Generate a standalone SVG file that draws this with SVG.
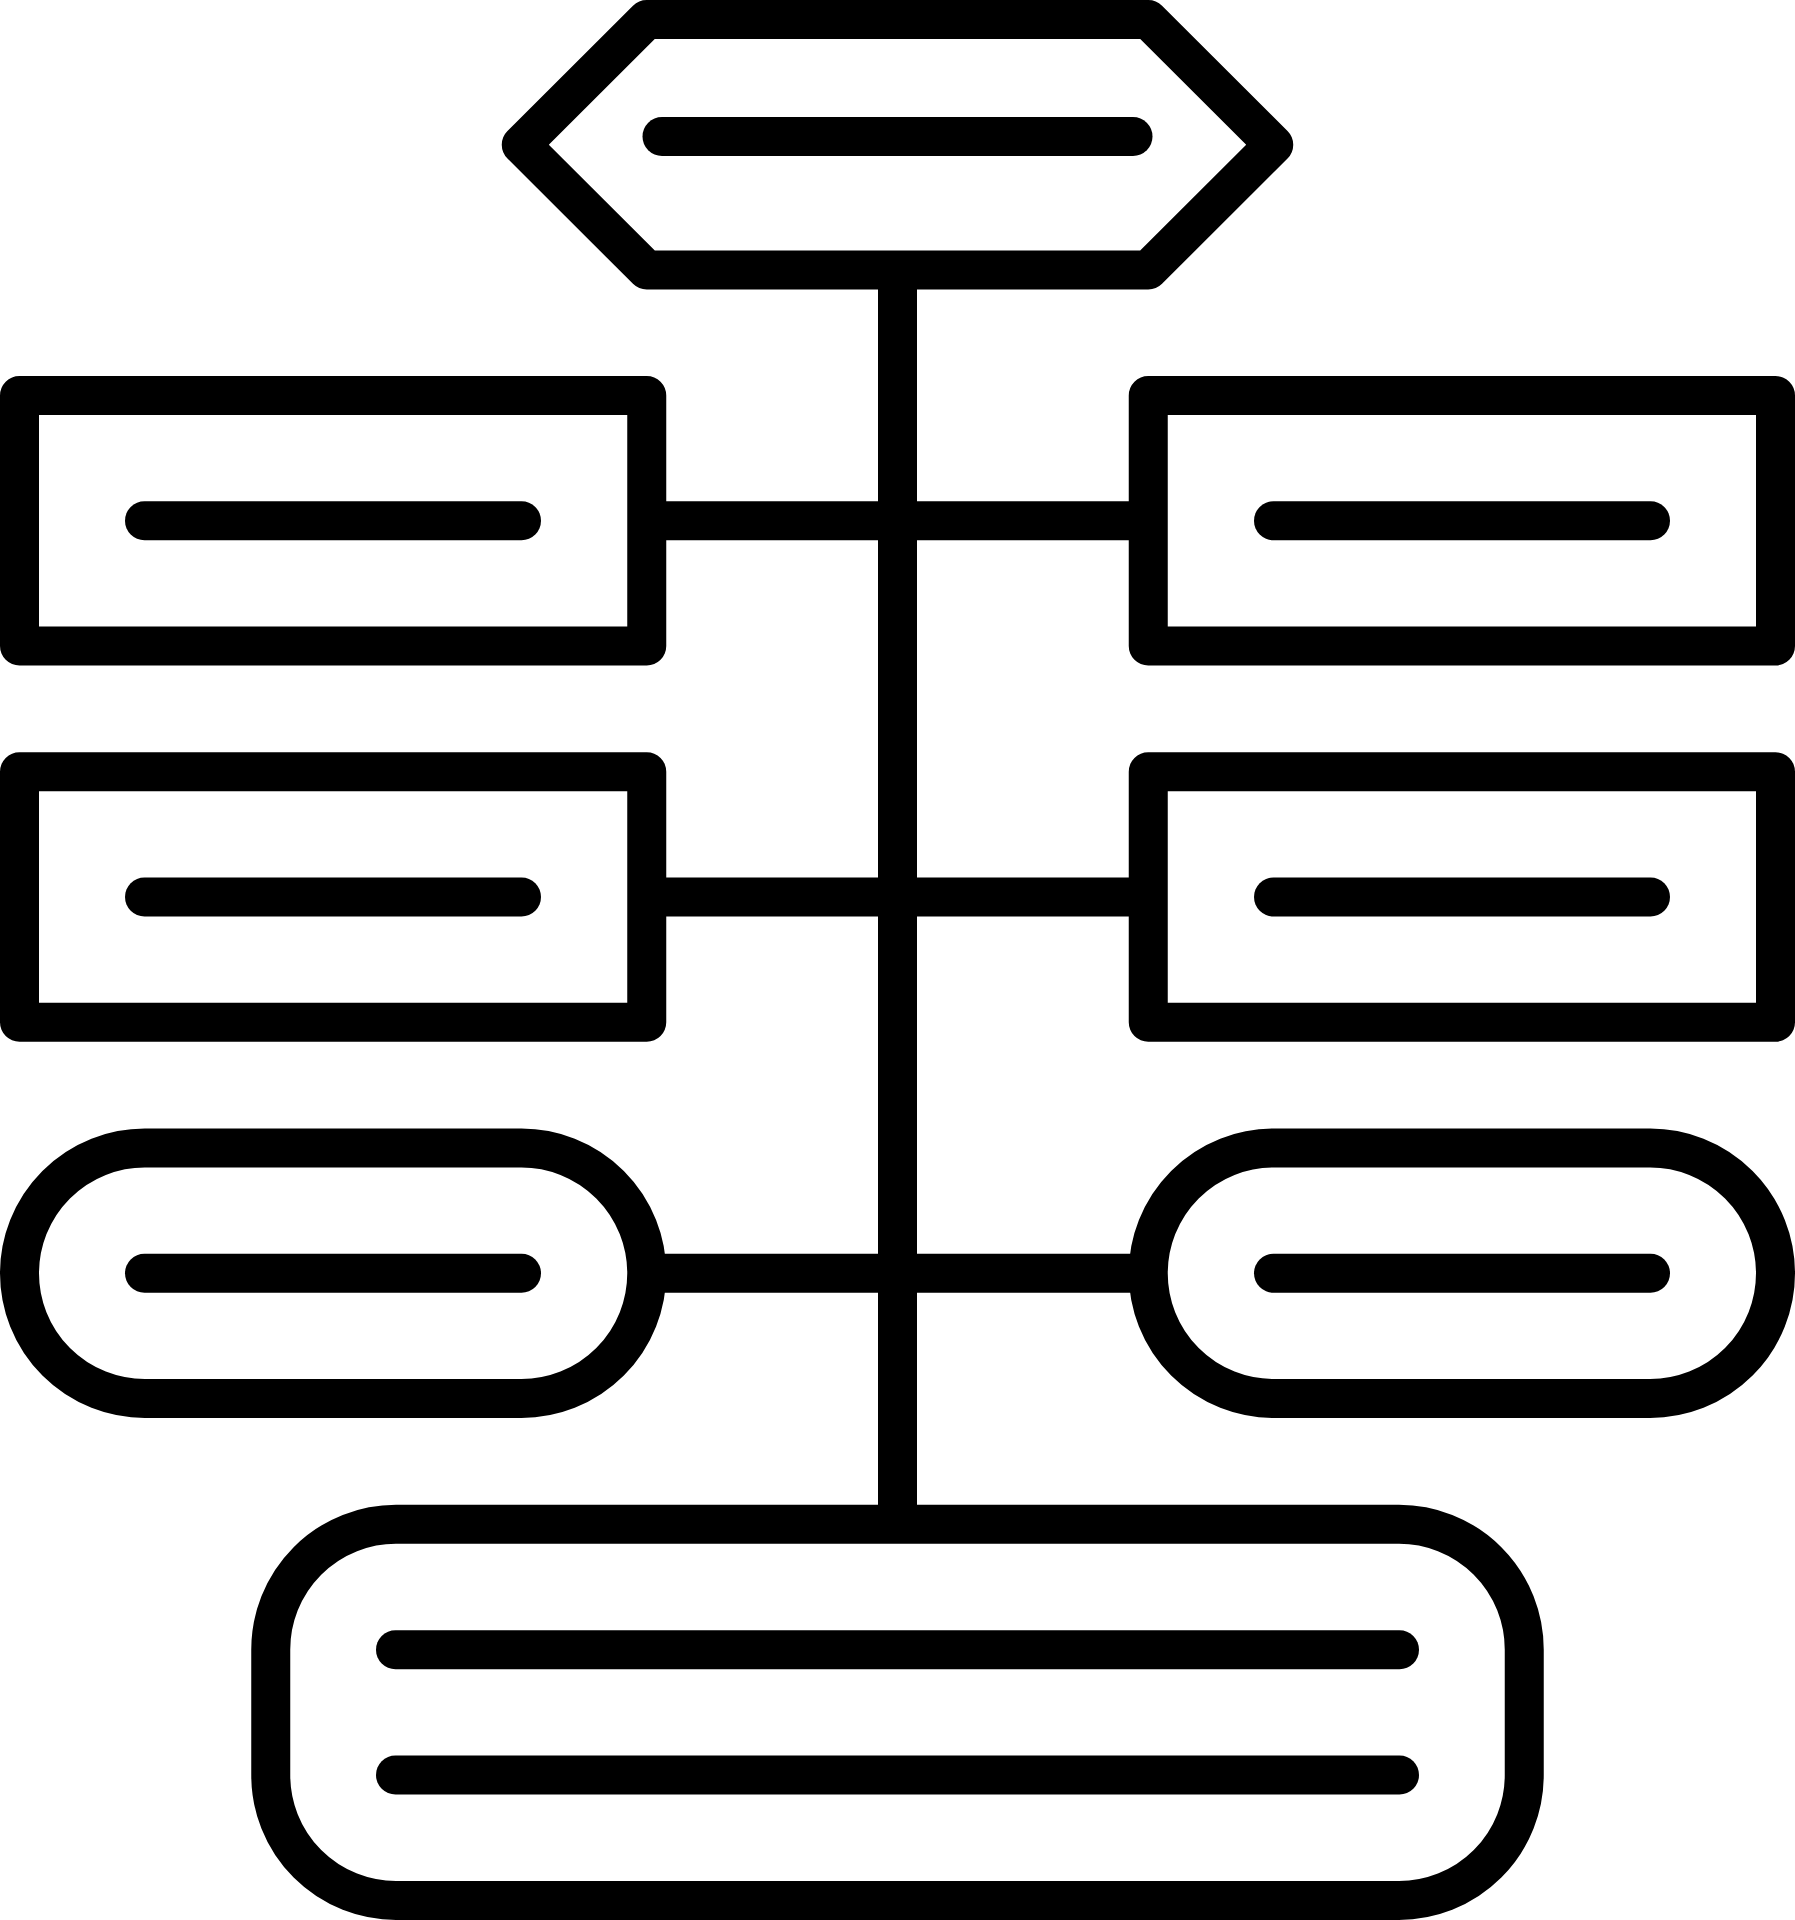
<svg xmlns="http://www.w3.org/2000/svg" width="1795" height="1920" viewBox="0 0 1795 1920">
<style>
.n{fill:#fff;stroke:#000;stroke-width:39;stroke-linejoin:round}
.t{stroke:#000;stroke-width:39;stroke-linecap:round;fill:none}
.c{stroke:#000;stroke-width:39;stroke-linecap:butt;fill:none}
</style>
<rect width="1795" height="1920" fill="#fff"/>
<g id="connectors">
<line class="c" x1="897.5" y1="270" x2="897.5" y2="1524.25"/>
<line class="c" x1="646.75" y1="520.75" x2="1148.25" y2="520.75"/>
<line class="c" x1="646.75" y1="897" x2="1148.25" y2="897"/>
<line class="c" x1="646.75" y1="1273.25" x2="1148.25" y2="1273.25"/>
</g>
<g id="top">
<polygon class="n" points="646.75,19.5 1148.25,19.5 1273.75,144.75 1148.25,270 646.75,270 521.25,144.75"/>
<line class="t" x1="662" y1="136.5" x2="1133" y2="136.5"/>
</g>
<g id="left1">
<rect class="n" x="19.5" y="395.5" width="627.25" height="250.5"/>
<line class="t" x1="144.5" y1="520.75" x2="521.5" y2="520.75"/>
</g>
<g id="right1">
<rect class="n" x="1148.25" y="395.5" width="627.25" height="250.5"/>
<line class="t" x1="1273.5" y1="520.75" x2="1650.5" y2="520.75"/>
</g>
<g id="left2">
<rect class="n" x="19.5" y="771.75" width="627.25" height="250.5"/>
<line class="t" x1="144.5" y1="897" x2="521.5" y2="897"/>
</g>
<g id="right2">
<rect class="n" x="1148.25" y="771.75" width="627.25" height="250.5"/>
<line class="t" x1="1273.5" y1="897" x2="1650.5" y2="897"/>
</g>
<g id="left3">
<rect class="n" x="19.5" y="1148" width="627.25" height="250.5" rx="125.25"/>
<line class="t" x1="144.5" y1="1273.25" x2="521.5" y2="1273.25"/>
</g>
<g id="right3">
<rect class="n" x="1148.25" y="1148" width="627.25" height="250.5" rx="125.25"/>
<line class="t" x1="1273.5" y1="1273.25" x2="1650.5" y2="1273.25"/>
</g>
<g id="bottom">
<rect class="n" x="270.75" y="1524.25" width="1253.5" height="376.25" rx="125.25"/>
<line class="t" x1="395.5" y1="1649.75" x2="1399.5" y2="1649.75"/>
<line class="t" x1="395.5" y1="1775" x2="1399.5" y2="1775"/>
</g>
</svg>
